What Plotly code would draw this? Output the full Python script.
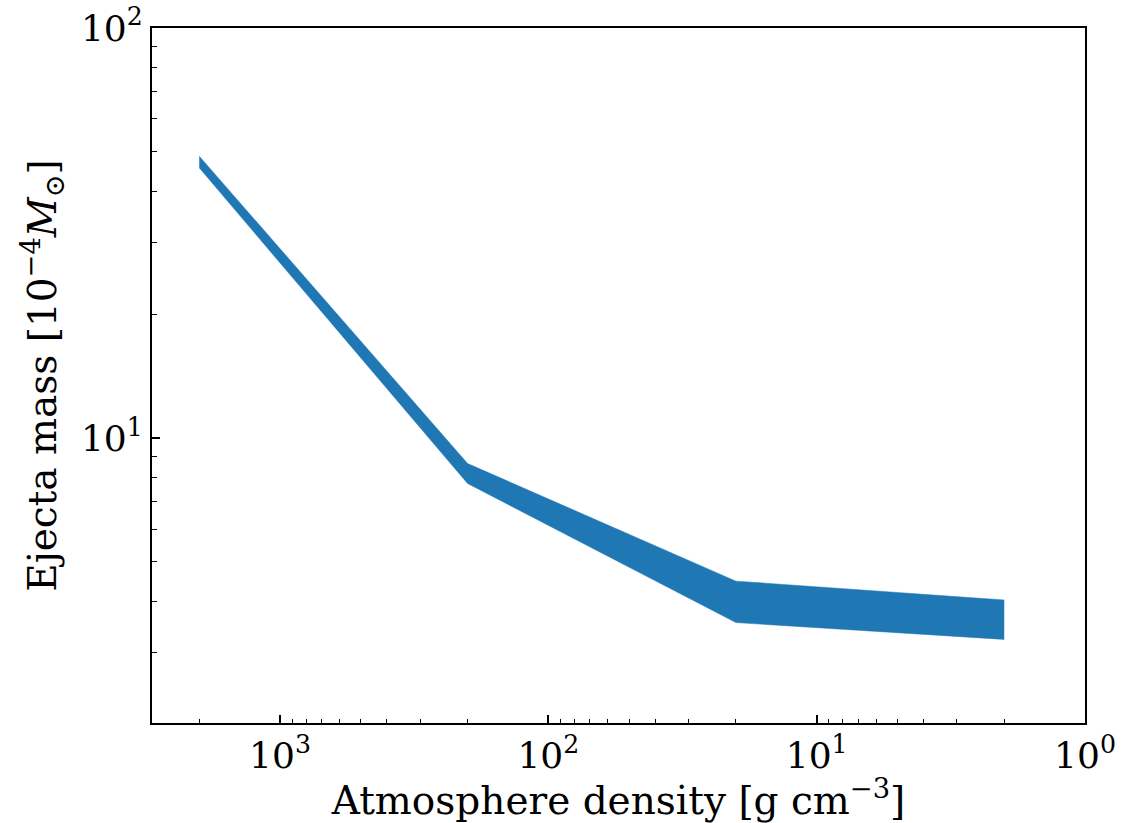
import plotly.graph_objects as go
import numpy as np

density = [2000, 200, 20, 2]
mass_upper = [48.7, 8.67, 4.48, 4.03]
mass_lower = [45.6, 7.75, 3.55, 3.23]

x_major = [1000, 100, 10, 1]
x_major_text = ["10<sup>3</sup>", "10<sup>2</sup>", "10<sup>1</sup>", "10<sup>0</sup>"]
y_major = [10, 100]
y_major_text = ["10<sup>1</sup>", "10<sup>2</sup>"]

x_minor = [k * 10 ** n for n in range(0, 4) for k in range(2, 10)]
y_minor = [k * 10 ** n for n in range(0, 3) for k in range(2, 10)]

color = "#1f77b4"
fig = go.Figure()
fig.add_trace(go.Scatter(x=density, y=mass_lower, mode="lines",
                         line=dict(color=color, width=0.5), showlegend=False,
                         hoverinfo="skip"))
fig.add_trace(go.Scatter(x=density, y=mass_upper, mode="lines",
                         line=dict(color=color, width=0.5), fill="tonexty",
                         fillcolor=color, showlegend=False))

font = "DejaVu Serif"
axis_common = dict(
    showline=True, linecolor="black", linewidth=2, mirror=True,
    ticks="inside", ticklen=8, tickwidth=1.5, tickcolor="black",
    showgrid=False, zeroline=False, automargin=False,
    tickfont=dict(family=font, size=36, color="black"),
)
fig.update_xaxes(type="log", range=[np.log10(3000), 0],
                 tickmode="array", tickvals=x_major, ticktext=x_major_text,
                 minor=dict(tickmode="array", tickvals=x_minor, ticks="inside",
                            ticklen=4.5, tickwidth=1.2, tickcolor="black", showgrid=False),
                 title=dict(text="Atmosphere density [g cm<sup>−3</sup>]",
                            font=dict(family=font, size=39, color="black"), standoff=4),
                 **axis_common)
fig.update_yaxes(type="log", range=[np.log10(2.02), 2],
                 tickmode="array", tickvals=y_major, ticktext=y_major_text,
                 minor=dict(tickmode="array", tickvals=y_minor, ticks="inside",
                            ticklen=4.5, tickwidth=1.2, tickcolor="black", showgrid=False),
                 title=dict(text="Ejecta mass [10<sup>−4</sup><i>M</i><sub>⊙</sub>]",
                            font=dict(family=font, size=39, color="black"), standoff=12),
                 **axis_common)
fig.update_layout(
    width=1143, height=823,
    margin=dict(l=152, r=58, t=28, b=100),
    plot_bgcolor="white", paper_bgcolor="white",
    showlegend=False,
)
fig.write_html("out.html")
